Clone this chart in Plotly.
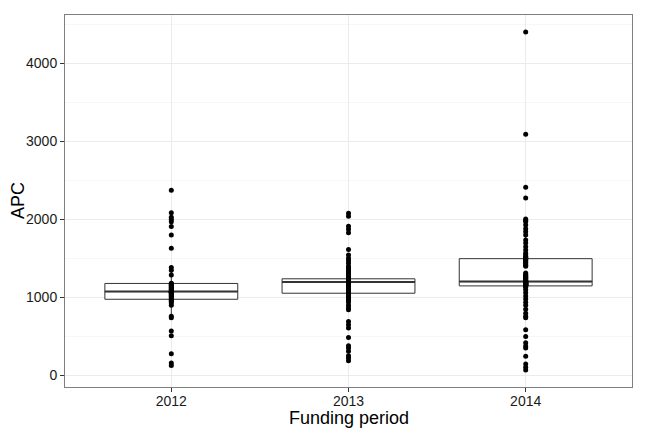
import numpy as np
import plotly.graph_objects as go

periods = ["2012", "2013", "2014"]

apc_2012 = [130, 160, 280, 510, 570, 740, 760, 900, 930, 950, 962,
            970,
            985, 1000, 1015, 1030, 1040, 1050, 1058, 1063, 1067, 1070, 1073,
            1076,
            1085, 1095, 1105, 1115, 1125, 1135, 1145, 1155, 1165, 1172, 1178,
            1183,
            1290, 1350, 1385, 1630, 1800, 1910, 1970, 2000, 2030, 2085, 2375]

apc_2013 = [191, 226, 255, 310, 353, 383, 489, 609, 651, 693,
            843, 870, 900, 940, 960, 980, 1000, 1010, 1020, 1040,
            1055,
            1062, 1070, 1075, 1080, 1085, 1090, 1100, 1110, 1120, 1130,
            1140, 1150, 1160, 1170, 1175, 1180, 1185, 1190, 1195,
            1200,
            1202, 1204, 1206, 1208, 1210, 1212, 1214, 1216, 1218, 1220,
            1222, 1224, 1226, 1228, 1230, 1232, 1234, 1236, 1238,
            1240,
            1250, 1260, 1275, 1290, 1300, 1320, 1340, 1360, 1380, 1400,
            1440, 1472, 1502, 1545, 1617, 1830, 1875, 1915, 2040, 2080]

apc_2014 = [70, 106, 149, 246, 353, 380, 420, 500, 587, 740,
            760, 800, 850, 900, 940, 980, 1020, 1060, 1100, 1130,
            1149,
            1151, 1153, 1155, 1158, 1161, 1164, 1167, 1170, 1172, 1175,
            1178, 1181, 1184, 1187, 1190, 1192, 1195, 1198, 1201,
            1204,
            1207, 1212, 1220, 1230, 1240, 1250, 1260, 1270, 1280, 1290,
            1300, 1315, 1400, 1415, 1430, 1445, 1460, 1475, 1490,
            1498,
            1505, 1515, 1530, 1550, 1570, 1609, 1650, 1700, 1736, 1800,
            1842, 1880, 1928, 1970, 1990, 2005, 2277, 2413, 3093, 4404]

x_title = "Funding period"
y_title = "APC"

series = [apc_2012, apc_2013, apc_2014]
xpos = list(range(len(periods)))
box_width = 0.75

# Tukey box statistics (R type-7 quantiles, 1.5 IQR whiskers)
q1s, meds, q3s, lows, highs = [], [], [], [], []
for vals in series:
    v = np.array(vals, dtype=float)
    q1, med, q3 = np.percentile(v, [25, 50, 75])
    iqr = q3 - q1
    q1s.append(q1); meds.append(med); q3s.append(q3)
    lows.append(v[v >= q1 - 1.5 * iqr].min())
    highs.append(v[v <= q3 + 1.5 * iqr].max())

fig = go.Figure()
fig.add_trace(go.Box(
    x=xpos, q1=q1s, median=meds, q3=q3s, lowerfence=lows, upperfence=highs,
    width=box_width, whiskerwidth=0, boxpoints=False,
    fillcolor="white", line=dict(color="#333333", width=1),
    showlegend=False, hoverinfo="skip"))

# thicker median segments (ggplot fatten)
mx, my = [], []
for x, m in zip(xpos, meds):
    mx += [x - box_width / 2, x + box_width / 2, None]
    my += [m, m, None]
fig.add_trace(go.Scatter(x=mx, y=my, mode="lines",
                         line=dict(color="#333333", width=2),
                         showlegend=False, hoverinfo="skip"))

px, py = [], []
for x, vals in zip(xpos, series):
    px += [x] * len(vals)
    py += vals
fig.add_trace(go.Scatter(x=px, y=py, mode="markers",
                         marker=dict(color="black", size=5),
                         showlegend=False))

allv = np.concatenate([np.array(s, float) for s in series])
lo, hi = allv.min(), allv.max()
pad = 0.05 * (hi - lo)

font = "Liberation Sans, Arial, sans-serif"
# page body has an 8px default margin, so the figure is sized to fit the window
fig.update_layout(
    width=640, height=424,
    margin=dict(l=57, r=16, t=7, b=45),
    paper_bgcolor="white", plot_bgcolor="white",
    font=dict(family=font, color="#1a1a1a"),
    xaxis=dict(
        range=[-0.6, 2.6], tickmode="array", tickvals=xpos, ticktext=periods,
        showgrid=True, gridcolor="#ebebeb", gridwidth=1, automargin=False,
        zeroline=False, showline=True, linecolor="#7f7f7f", linewidth=1, mirror=True,
        ticks="outside", ticklen=4, tickcolor="#333333", ticklabelstandoff=-3,
        tickfont=dict(size=14, color="#1a1a1a"),
    ),
    yaxis=dict(
        range=[lo - pad, hi + pad], tick0=0, dtick=1000, automargin=False,
        showgrid=True, gridcolor="#ebebeb", gridwidth=1,
        minor=dict(dtick=500, tick0=0, showgrid=True, gridcolor="#f7f7f7", gridwidth=1),
        zeroline=False, showline=True, linecolor="#7f7f7f", linewidth=1, mirror=True,
        ticks="outside", ticklen=4, tickcolor="#333333",
        tickfont=dict(size=14, color="#1a1a1a"),
    ),
    annotations=[
        dict(text=x_title, xref="paper", yref="paper", x=0.5, y=0,
             xanchor="center", yanchor="middle", yshift=-31, borderpad=0,
             showarrow=False, font=dict(size=18, color="black")),
        dict(text=y_title, xref="paper", yref="paper", x=0, y=0.5,
             xanchor="center", yanchor="middle", xshift=-47, textangle=-90,
             borderpad=0, showarrow=False, font=dict(size=18, color="black")),
    ],
)

fig.write_html("out.html")
